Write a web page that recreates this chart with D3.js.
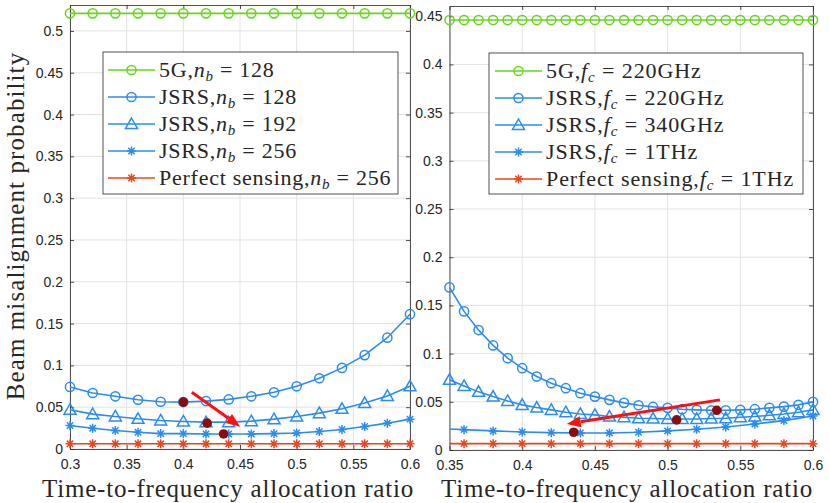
<!DOCTYPE html>
<html>
<head>
<meta charset="utf-8">
<script src="https://cdn.jsdelivr.net/npm/d3@7"></script>
<style>
	body { margin: 0; background: #fff; }
	text { fill: #262626; }
</style>
</head>
<body>
<div class="svg-container"></div>
<script>
(function () {

	"use strict";

	// ---- left panel : number of beams n_b ----
	var xLeft        = [ 0.30, 0.32, 0.34, 0.36, 0.38, 0.40, 0.42, 0.44, 0.46, 0.48, 0.50, 0.52, 0.54, 0.56, 0.58, 0.60 ];
	var fiveGLeft    = [ 0.521, 0.521, 0.521, 0.521, 0.521, 0.521, 0.521, 0.521, 0.521, 0.521, 0.521, 0.521, 0.521, 0.521, 0.521, 0.521 ];
	var jsrs128      = [ 0.0742, 0.0670, 0.0630, 0.0589, 0.0565, 0.0561, 0.0573, 0.0593, 0.0630, 0.0678, 0.0750, 0.0846, 0.0970, 0.1123, 0.1331, 0.1612 ];
	var jsrs192      = [ 0.0470, 0.0417, 0.0389, 0.0361, 0.0341, 0.0329, 0.0321, 0.0321, 0.0333, 0.0357, 0.0389, 0.0429, 0.0481, 0.0549, 0.0634, 0.0750 ];
	var jsrs256      = [ 0.0281, 0.0249, 0.0221, 0.0200, 0.0184, 0.0184, 0.0180, 0.0180, 0.0180, 0.0184, 0.0192, 0.0209, 0.0233, 0.0269, 0.0309, 0.0357 ];
	var perfectLeft  = [ 0.0062, 0.0062, 0.0062, 0.0062, 0.0062, 0.0062, 0.0062, 0.0062, 0.0062, 0.0062, 0.0062, 0.0062, 0.0062, 0.0062, 0.0062, 0.0062 ];
	var optLeftX     = [ 0.400, 0.421, 0.4355 ];
	var optLeftY     = [ 0.0561, 0.0309, 0.0180 ];
	var arrowLeft    = [ [ 0.4075, 0.0678 ], [ 0.4502, 0.0267 ] ];
	var xTicksLeft   = [ 0.3, 0.35, 0.4, 0.45, 0.5, 0.55, 0.6 ];
	var yTicksLeft   = [ 0, 0.05, 0.1, 0.15, 0.2, 0.25, 0.3, 0.35, 0.4, 0.45, 0.5 ];
	var legendLeft   = [ "n", "b", [ "5G,", "JSRS,", "JSRS,", "JSRS,", "Perfect sensing," ], [ " = 128", " = 128", " = 192", " = 256", " = 256" ] ];

	// ---- right panel : carrier frequency f_c ----
	var xRight       = [ 0.35, 0.36, 0.37, 0.38, 0.39, 0.40, 0.41, 0.42, 0.43, 0.44, 0.45, 0.46, 0.47, 0.48, 0.49, 0.50, 0.51, 0.52, 0.53, 0.54, 0.55, 0.56, 0.57, 0.58, 0.59, 0.60 ];
	var xRightStar   = [ 0.35, 0.36, 0.38, 0.40, 0.42, 0.44, 0.46, 0.48, 0.50, 0.52, 0.54, 0.56, 0.58, 0.60 ];
	var fiveGRight   = [ 0.446, 0.446, 0.446, 0.446, 0.446, 0.446, 0.446, 0.446, 0.446, 0.446, 0.446, 0.446, 0.446, 0.446, 0.446, 0.446, 0.446, 0.446, 0.446, 0.446, 0.446, 0.446, 0.446, 0.446, 0.446, 0.446 ];
	var jsrs220      = [ 0.1687, 0.1438, 0.1244, 0.1085, 0.0953, 0.0849, 0.0762, 0.0693, 0.0641, 0.0589, 0.0554, 0.0520, 0.0489, 0.0464, 0.0447, 0.0437, 0.0423, 0.0416, 0.0412, 0.0412, 0.0416, 0.0423, 0.0437, 0.0450, 0.0468, 0.0499 ];
	var jsrs340      = [ 0.0728, 0.0665, 0.0603, 0.0554, 0.0509, 0.0468, 0.0440, 0.0416, 0.0392, 0.0374, 0.0364, 0.0347, 0.0340, 0.0329, 0.0326, 0.0322, 0.0322, 0.0322, 0.0326, 0.0329, 0.0340, 0.0347, 0.0360, 0.0374, 0.0392, 0.0416 ];
	var jsrs1THz     = [ 0.0218, 0.0211, 0.0198, 0.0187, 0.0180, 0.0177, 0.0177, 0.0184, 0.0198, 0.0215, 0.0239, 0.0270, 0.0305, 0.0353 ];
	var perfectRight = [ 0.0066, 0.0066, 0.0066, 0.0066, 0.0066, 0.0066, 0.0066, 0.0066, 0.0066, 0.0066, 0.0066, 0.0066, 0.0066, 0.0066 ];
	var optRightX    = [ 0.5338, 0.5062, 0.4354 ];
	var optRightY    = [ 0.0412, 0.0312, 0.0184 ];
	var arrowRight   = [ [ 0.536, 0.052 ], [ 0.4306, 0.027 ] ];
	var xTicksRight  = [ 0.35, 0.4, 0.45, 0.5, 0.55, 0.6 ];
	var yTicksRight  = [ 0, 0.05, 0.1, 0.15, 0.2, 0.25, 0.3, 0.35, 0.4, 0.45 ];
	var legendRight  = [ "f", "c", [ "5G,", "JSRS,", "JSRS,", "JSRS,", "Perfect sensing," ], [ " = 220GHz", " = 220GHz", " = 340GHz", " = 1THz", " = 1THz" ] ];

	// colors
	var green 	= "#66d61a";
	var blue 	= "#2b8cf0";
	var red 	= "#e8471e";
	var dark 	= "#8a0c0c";
	var axisCol = "#262626";
	var gridCol = "#e3e3e3";
	var serif 	= "Liberation Serif, Times New Roman, serif";

	var svg = d3.select(".svg-container").append("svg")
		.attr("width", 830)
		.attr("height", 503);

	var panels = [
		{
			x: [ 70, 410 ], y: [ 449, 5 ], xDom: [ 0.3, 0.6 ], yDom: [ 0, 0.531 ],
			xTicks: xTicksLeft, yTicks: yTicksLeft,
			series: [
				{ xs: xLeft, ys: fiveGLeft, color: green, marker: "o", skip: -1 },
				{ xs: xLeft, ys: jsrs128, color: blue, marker: "o", skip: -1 },
				{ xs: xLeft, ys: jsrs192, color: blue, marker: "^", skip: -1 },
				{ xs: xLeft, ys: jsrs256, color: blue, marker: "*", skip: -1 },
				{ xs: xLeft, ys: perfectLeft, color: red, marker: "*", skip: -1 }
			],
			optX: optLeftX, optY: optLeftY, arrow: arrowLeft,
			legend: legendLeft, legBox: [ 103, 52, 295, 142 ], legX: 108, legSp: 0.75,
			labelX: 228
		},
		{
			x: [ 449.5, 813 ], y: [ 450, 6 ], xDom: [ 0.35, 0.6 ], yDom: [ 0, 0.4606 ],
			xTicks: xTicksRight, yTicks: yTicksRight,
			series: [
				{ xs: xRight, ys: fiveGRight, color: green, marker: "o", skip: -1 },
				{ xs: xRight, ys: jsrs220, color: blue, marker: "o", skip: -1 },
				{ xs: xRight, ys: jsrs340, color: blue, marker: "^", skip: -1 },
				{ xs: xRightStar, ys: jsrs1THz, color: blue, marker: "*", skip: 0 },
				{ xs: xRightStar, ys: perfectRight, color: red, marker: "*", skip: 0 }
			],
			optX: optRightX, optY: optRightY, arrow: arrowRight,
			legend: legendRight, legBox: [ 489, 53, 314, 141 ], legX: 495, legSp: 0.9,
			labelX: 627
		}
	];

	var legMarkers = [ [ green, "o" ], [ blue, "o" ], [ blue, "^" ], [ blue, "*" ], [ red, "*" ] ];

	panels.forEach(function ( p ) {

		var x = d3.scaleLinear().domain( p.xDom ).range( p.x );
		var y = d3.scaleLinear().domain( p.yDom ).range( p.y );

		var g = svg.append("g");

		// grid
		g.selectAll(".vgrid").data( p.xTicks ).enter().append("line")
			.attr("x1", function ( d ) { return x(d); }).attr("x2", function ( d ) { return x(d); })
			.attr("y1", p.y[0]).attr("y2", p.y[1])
			.attr("stroke", gridCol).attr("stroke-width", 1);
		g.selectAll(".hgrid").data( p.yTicks ).enter().append("line")
			.attr("y1", function ( d ) { return y(d); }).attr("y2", function ( d ) { return y(d); })
			.attr("x1", p.x[0]).attr("x2", p.x[1])
			.attr("stroke", gridCol).attr("stroke-width", 1);

		// axes with inward ticks, mirrored top / right
		var fmt = function ( d ) { return d === 0 ? "0" : String( +d.toFixed(2) ); };
		var axB = g.append("g").attr("transform", "translate(0," + p.y[0] + ")")
			.call( d3.axisBottom(x).tickValues( p.xTicks ).tickSizeInner(-4).tickSizeOuter(0).tickPadding(10).tickFormat( fmt ) );
		var axL = g.append("g").attr("transform", "translate(" + p.x[0] + ",0)")
			.call( d3.axisLeft(y).tickValues( p.yTicks ).tickSizeInner(-4).tickSizeOuter(0).tickPadding(7).tickFormat( fmt ) );
		var axT = g.append("g").attr("transform", "translate(0," + p.y[1] + ")")
			.call( d3.axisTop(x).tickValues( p.xTicks ).tickSizeInner(-4).tickSizeOuter(0).tickFormat("") );
		var axR = g.append("g").attr("transform", "translate(" + p.x[1] + ",0)")
			.call( d3.axisRight(y).tickValues( p.yTicks ).tickSizeInner(-4).tickSizeOuter(0).tickFormat("") );

		[ axB, axL, axT, axR ].forEach(function ( a ) {
			a.selectAll("path, line").attr("stroke", axisCol).attr("stroke-width", 0.8);
			a.selectAll("text").attr("font-family", "Liberation Sans, Arial, sans-serif")
				.attr("font-size", 14).attr("fill", axisCol);
		});

		// series
		var line = d3.line()
			.x(function ( d ) { return x( d[0] ); })
			.y(function ( d ) { return y( d[1] ); });

		p.series.forEach(function ( s ) {
			var pts = s.xs.map(function ( v, i ) { return [ v, s.ys[i] ]; });
			g.append("path").datum( pts )
				.attr("d", line)
				.attr("fill", "none").attr("stroke", s.color).attr("stroke-width", 1.6);
			pts.forEach(function ( d, i ) {
				if ( i === s.skip ) return;
				drawMarker( g, x( d[0] ), y( d[1] ), s.marker, s.color );
			});
		});

		// optimum points
		g.selectAll(".opt").data( p.optX ).enter().append("circle")
			.attr("cx", function ( d ) { return x(d); })
			.attr("cy", function ( d, i ) { return y( p.optY[i] ); })
			.attr("r", 4.8)
			.attr("fill", dark);

		// arrow
		var x1 = x( p.arrow[0][0] ), y1 = y( p.arrow[0][1] ),
			x2 = x( p.arrow[1][0] ), y2 = y( p.arrow[1][1] );
		var ang = Math.atan2( y2 - y1, x2 - x1 );
		var hl = 14, hw = 5.5;
		var bx = x2 - hl * Math.cos( ang ), by = y2 - hl * Math.sin( ang );
		g.append("line")
			.attr("x1", x1).attr("y1", y1).attr("x2", bx).attr("y2", by)
			.attr("stroke", "#ff1010").attr("stroke-width", 3);
		g.append("path")
			.attr("d", "M" + x2 + "," + y2 +
				"L" + ( bx + hw * Math.sin( ang ) ) + "," + ( by - hw * Math.cos( ang ) ) +
				"L" + ( bx - hw * Math.sin( ang ) ) + "," + ( by + hw * Math.cos( ang ) ) + "Z")
			.attr("fill", "#ff1010");

		// legend
		var lb = p.legBox;
		g.append("rect")
			.attr("x", lb[0]).attr("y", lb[1]).attr("width", lb[2]).attr("height", lb[3])
			.attr("fill", "#fff").attr("stroke", axisCol).attr("stroke-width", 0.8);

		var rows = g.selectAll(".leg").data( p.legend[2] ).enter().append("g")
			.attr("transform", function ( d, i ) { return "translate(" + p.legX + "," + ( lb[1] + 18 + i * 27 ) + ")"; });

		rows.each(function ( d, i ) {
			var r = d3.select(this);
			r.append("line").attr("x1", 0).attr("x2", 47).attr("y1", 0).attr("y2", 0)
				.attr("stroke", legMarkers[i][0]).attr("stroke-width", 1.6);
			drawMarker( r, 23.5, 0, legMarkers[i][1], legMarkers[i][0] );
			var t = r.append("text")
				.attr("x", 51).attr("y", 7)
				.attr("font-family", serif)
				.attr("font-size", 22)
				.attr("letter-spacing", p.legSp)
				.attr("xml:space", "preserve");
			t.append("tspan").text( d );
			t.append("tspan").attr("font-style", "italic").text( p.legend[0] );
			t.append("tspan").attr("font-style", "italic").attr("font-size", 15).attr("dy", 4).text( p.legend[1] );
			t.append("tspan").attr("dy", -4).text( p.legend[3][i] );
		});

		// x label
		svg.append("text")
			.attr("x", p.labelX).attr("y", 497)
			.attr("text-anchor", "middle")
			.attr("font-family", serif)
			.attr("font-size", 25)
			.attr("letter-spacing", 0.8)
			.text("Time-to-frequency allocation ratio");

	});

	// y label
	svg.append("text")
		.attr("transform", "translate(24,226) rotate(-90)")
		.attr("text-anchor", "middle")
		.attr("font-family", serif)
		.attr("font-size", 25)
		.attr("letter-spacing", 1.1)
		.text("Beam misalignment probability");

	function drawMarker ( sel, cx, cy, type, color ) {
		if ( type === "o" ) {
			sel.append("circle").attr("cx", cx).attr("cy", cy).attr("r", 4.6)
				.attr("fill", "none").attr("stroke", color).attr("stroke-width", 1.5);
		} else if ( type === "^" ) {
			var s = 6;
			sel.append("path")
				.attr("d", "M" + cx + "," + ( cy - s ) + "L" + ( cx + s ) + "," + ( cy + s * 0.75 ) + "L" + ( cx - s ) + "," + ( cy + s * 0.75 ) + "Z")
				.attr("fill", "none").attr("stroke", color).attr("stroke-width", 1.5);
		} else {
			var r = 4.5, d = r * 0.707;
			sel.append("path")
				.attr("d", "M" + ( cx - r ) + "," + cy + "h" + ( 2 * r ) +
					"M" + cx + "," + ( cy - r ) + "v" + ( 2 * r ) +
					"M" + ( cx - d ) + "," + ( cy - d ) + "l" + ( 2 * d ) + "," + ( 2 * d ) +
					"M" + ( cx - d ) + "," + ( cy + d ) + "l" + ( 2 * d ) + "," + ( -2 * d ))
				.attr("stroke", color).attr("stroke-width", 1.5);
		}
	}

})();
</script>
</body>
</html>
